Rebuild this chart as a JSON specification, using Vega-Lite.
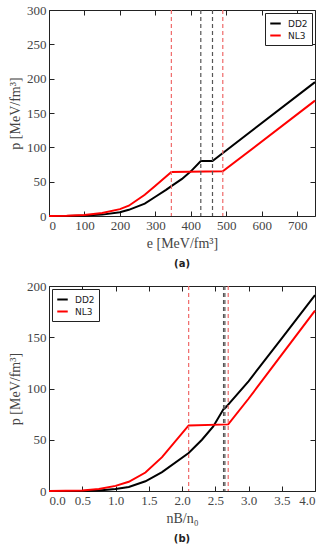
{
  "$schema": "https://vega.github.io/schema/vega-lite/v6.json",
  "padding": {"left": 8, "top": 3, "right": 8, "bottom": 0},
  "background": "white",
  "config": {
    "view": {"stroke": "#222", "strokeWidth": 1},
    "axis": {"grid": false, "domain": false, "ticks": true, "tickColor": "#222", "tickWidth": 1, "tickSize": -5, "labelPadding": 8, "labelFont": "Liberation Serif", "labelFontSize": 13, "labelColor": "#444", "titleFont": "Liberation Serif", "titleFontSize": 14, "titleFontWeight": "normal", "titleColor": "#444"},
    "legend": {"labelFont": "DejaVu Sans", "labelFontSize": 9, "labelColor": "#222", "strokeColor": "#222", "fillColor": "white", "padding": 4, "symbolType": "stroke", "symbolStrokeWidth": 2, "symbolSize": 110, "rowPadding": 0, "labelOffset": 6, "cornerRadius": 0, "title": null},
    "title": {"font": "DejaVu Sans", "fontSize": 10, "fontWeight": "bold", "color": "#222"}
  },
  "datasets": {
    "a": [
      {"e": 0, "p": 0, "eos": "DD2"}, {"e": 50, "p": 0.1, "eos": "DD2"}, {"e": 100, "p": 0.6, "eos": "DD2"}, {"e": 150, "p": 2, "eos": "DD2"}, {"e": 200, "p": 5.5, "eos": "DD2"}, {"e": 225, "p": 9, "eos": "DD2"}, {"e": 270, "p": 18, "eos": "DD2"}, {"e": 300, "p": 28, "eos": "DD2"}, {"e": 330, "p": 38, "eos": "DD2"}, {"e": 345, "p": 43.5, "eos": "DD2"}, {"e": 375, "p": 54, "eos": "DD2"}, {"e": 400, "p": 65, "eos": "DD2"}, {"e": 428, "p": 80, "eos": "DD2"}, {"e": 461, "p": 80, "eos": "DD2"}, {"e": 750, "p": 195, "eos": "DD2"},
      {"e": 0, "p": 0, "eos": "NL3"}, {"e": 50, "p": 0.3, "eos": "NL3"}, {"e": 100, "p": 1.5, "eos": "NL3"}, {"e": 150, "p": 4.5, "eos": "NL3"}, {"e": 200, "p": 10, "eos": "NL3"}, {"e": 225, "p": 15, "eos": "NL3"}, {"e": 270, "p": 31, "eos": "NL3"}, {"e": 300, "p": 44, "eos": "NL3"}, {"e": 345, "p": 64, "eos": "NL3"}, {"e": 490, "p": 65, "eos": "NL3"}, {"e": 750, "p": 168, "eos": "NL3"}
    ],
    "b": [
      {"n": 0, "p": 0, "eos": "DD2"}, {"n": 0.5, "p": 0.1, "eos": "DD2"}, {"n": 0.75, "p": 0.5, "eos": "DD2"}, {"n": 1.0, "p": 2, "eos": "DD2"}, {"n": 1.2, "p": 4, "eos": "DD2"}, {"n": 1.45, "p": 9.5, "eos": "DD2"}, {"n": 1.7, "p": 18.5, "eos": "DD2"}, {"n": 2.1, "p": 37, "eos": "DD2"}, {"n": 2.3, "p": 50, "eos": "DD2"}, {"n": 2.47, "p": 63, "eos": "DD2"}, {"n": 2.625, "p": 80, "eos": "DD2"}, {"n": 2.645, "p": 80.5, "eos": "DD2"}, {"n": 3.0, "p": 107, "eos": "DD2"}, {"n": 3.5, "p": 149, "eos": "DD2"}, {"n": 4.0, "p": 191, "eos": "DD2"},
      {"n": 0, "p": 0, "eos": "NL3"}, {"n": 0.5, "p": 0.5, "eos": "NL3"}, {"n": 0.75, "p": 2, "eos": "NL3"}, {"n": 1.0, "p": 5, "eos": "NL3"}, {"n": 1.2, "p": 9, "eos": "NL3"}, {"n": 1.45, "p": 18, "eos": "NL3"}, {"n": 1.7, "p": 33, "eos": "NL3"}, {"n": 2.1, "p": 64, "eos": "NL3"}, {"n": 2.695, "p": 65, "eos": "NL3"}, {"n": 3.0, "p": 90, "eos": "NL3"}, {"n": 3.5, "p": 133, "eos": "NL3"}, {"n": 4.0, "p": 176, "eos": "NL3"}
    ]
  },
  "spacing": 9,
  "vconcat": [
    {
      "width": 266, "height": 206,
      "title": {"text": "(a)", "orient": "bottom", "offset": 9},
      "resolve": {"axis": {"x": "independent", "y": "independent"}},
      "layer": [
        {
          "data": {"name": "a"},
          "mark": {"type": "line", "strokeWidth": 2},
          "encoding": {
            "x": {"field": "e", "type": "quantitative", "scale": {"domain": [0, 750], "nice": false}, "axis": {"title": "e [MeV/fm³]", "values": [0,100,200,300,400,500,600,700], "titlePadding": 4}},
            "y": {"field": "p", "type": "quantitative", "scale": {"domain": [0, 300], "nice": false}, "axis": {"title": "p [MeV/fm³]", "values": [0,50,100,150,200,250,300], "titlePadding": 4}},
            "color": {"field": "eos", "type": "nominal", "scale": {"domain": ["DD2", "NL3"], "range": ["#000000", "#ff0000"]}, "legend": {"orient": "top-right", "offset": 3}}
          }
        },
        {
          "data": {"values": [{"e": 345}, {"e": 490}]},
          "mark": {"type": "rule", "color": "#f06a6a", "strokeDash": [4, 3], "strokeWidth": 1.2},
          "encoding": {"x": {"field": "e", "type": "quantitative", "scale": {"domain": [0, 750], "nice": false}, "axis": {"orient": "top", "labels": false, "title": null, "values": [0,100,200,300,400,500,600,700]}}}
        },
        {
          "data": {"values": [{"e": 428}, {"e": 461}]},
          "mark": {"type": "rule", "color": "#555", "strokeDash": [4, 3], "strokeWidth": 1.2},
          "encoding": {"x": {"field": "e", "type": "quantitative", "scale": {"domain": [0, 750], "nice": false}, "axis": null}}
        },
        {
          "data": {"name": "a"},
          "mark": {"type": "line", "opacity": 0},
          "encoding": {
            "x": {"field": "e", "type": "quantitative", "scale": {"domain": [0, 750], "nice": false}, "axis": null},
            "y": {"field": "p", "type": "quantitative", "scale": {"domain": [0, 300], "nice": false}, "axis": {"orient": "right", "labels": false, "title": null, "values": [0,50,100,150,200,250,300]}},
            "detail": {"field": "eos"}
          }
        }
      ]
    },
    {
      "width": 266, "height": 205,
      "title": {"text": "(b)", "orient": "bottom", "offset": 9},
      "resolve": {"axis": {"x": "independent", "y": "independent"}},
      "layer": [
        {
          "data": {"name": "b"},
          "mark": {"type": "line", "strokeWidth": 2},
          "encoding": {
            "x": {"field": "n", "type": "quantitative", "scale": {"domain": [0, 4], "nice": false}, "axis": {"title": "nB/n₀", "values": [0,0.5,1,1.5,2,2.5,3,3.5,4], "format": ".1f", "titlePadding": 4}},
            "y": {"field": "p", "type": "quantitative", "scale": {"domain": [0, 200], "nice": false}, "axis": {"title": "p [MeV/fm³]", "values": [0,50,100,150,200], "titlePadding": 4}},
            "color": {"field": "eos", "type": "nominal", "scale": {"domain": ["DD2", "NL3"], "range": ["#000000", "#ff0000"]}, "legend": {"orient": "top-left", "offset": 3}}
          }
        },
        {
          "data": {"values": [{"n": 2.1}, {"n": 2.695}]},
          "mark": {"type": "rule", "color": "#f06a6a", "strokeDash": [4, 3], "strokeWidth": 1.2},
          "encoding": {"x": {"field": "n", "type": "quantitative", "scale": {"domain": [0, 4], "nice": false}, "axis": {"orient": "top", "labels": false, "title": null, "values": [0,0.5,1,1.5,2,2.5,3,3.5,4]}}}
        },
        {
          "data": {"values": [{"n": 2.625}, {"n": 2.645}]},
          "mark": {"type": "rule", "color": "#555", "strokeDash": [4, 3], "strokeWidth": 1.2},
          "encoding": {"x": {"field": "n", "type": "quantitative", "scale": {"domain": [0, 4], "nice": false}, "axis": null}}
        },
        {
          "data": {"name": "b"},
          "mark": {"type": "line", "opacity": 0},
          "encoding": {
            "x": {"field": "n", "type": "quantitative", "scale": {"domain": [0, 4], "nice": false}, "axis": null},
            "y": {"field": "p", "type": "quantitative", "scale": {"domain": [0, 200], "nice": false}, "axis": {"orient": "right", "labels": false, "title": null, "values": [0,50,100,150,200]}},
            "detail": {"field": "eos"}
          }
        }
      ]
    }
  ]
}
